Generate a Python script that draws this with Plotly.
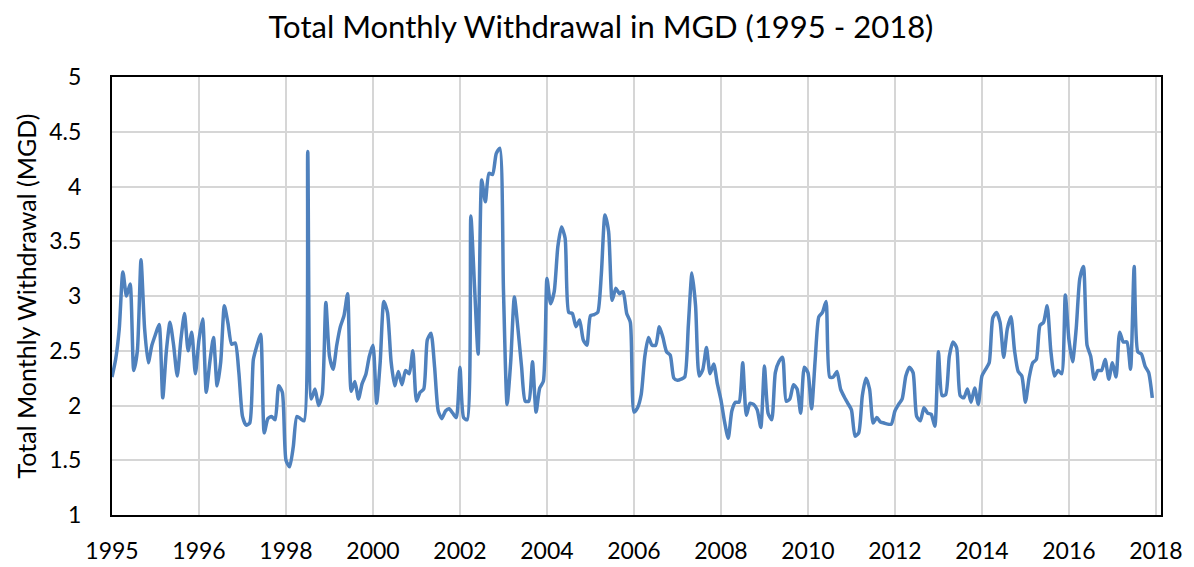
import plotly.graph_objects as go

# Monthly withdrawal (MGD), 288 months
withdrawal_mgd = [
    2.26, 2.42, 2.70, 3.22, 3.00, 3.11, 2.32, 2.50, 3.33, 2.70, 2.39, 2.55,
    2.65, 2.74, 2.07, 2.50, 2.76, 2.55, 2.27, 2.60, 2.84, 2.50, 2.67, 2.29,
    2.60, 2.79, 2.12, 2.40, 2.62, 2.18, 2.40, 2.91, 2.75, 2.56, 2.57, 2.30,
    1.90, 1.82, 1.84, 2.42, 2.55, 2.65, 1.75, 1.88, 1.90, 1.87, 2.18, 2.12,
    1.50, 1.44, 1.62, 1.90, 1.88, 1.86, 4.32, 2.06, 2.15, 2.00, 2.10, 2.94,
    2.45, 2.33, 2.55, 2.72, 2.82, 3.02, 2.13, 2.22, 2.06, 2.20, 2.28, 2.45,
    2.55, 2.02, 2.40, 2.95, 2.85, 2.40, 2.18, 2.31, 2.19, 2.32, 2.29, 2.50,
    2.04, 2.12, 2.15, 2.60, 2.66, 2.35, 1.95, 1.88, 1.95, 1.97, 1.93, 1.89,
    2.35, 1.89, 1.87, 3.73, 3.10, 2.47, 4.06, 3.86, 4.12, 4.11, 4.30, 4.35,
    3.05, 2.01, 2.40, 2.99, 2.70, 2.35, 2.04, 2.04, 2.40, 1.94, 2.16, 2.22,
    3.16, 2.93, 3.04, 3.45, 3.63, 3.53, 2.85, 2.84, 2.72, 2.78, 2.60, 2.55,
    2.82, 2.83, 2.85, 3.20, 3.74, 3.59, 2.96, 3.07, 3.02, 3.04, 2.84, 2.76,
    1.94, 1.98, 2.10, 2.45, 2.62, 2.55, 2.55, 2.72, 2.62, 2.49, 2.46, 2.25,
    2.23, 2.24, 2.26, 2.73, 3.21, 2.91, 2.27, 2.33, 2.53, 2.29, 2.38, 2.20,
    2.05, 1.85, 1.70, 1.95, 2.03, 2.03, 2.39, 1.91, 2.02, 2.01, 1.96, 1.80,
    2.36, 1.93, 1.87, 2.30, 2.40, 2.44, 2.04, 2.06, 2.19, 2.15, 1.93, 2.35,
    2.30, 1.97, 2.42, 2.81, 2.85, 2.95, 2.26, 2.26, 2.31, 2.15, 2.08, 2.02,
    1.96, 1.72, 1.75, 2.09, 2.25, 2.15, 1.84, 1.89, 1.85, 1.84, 1.83, 1.83,
    1.95, 2.01, 2.06, 2.27, 2.35, 2.30, 1.90, 1.86, 1.98, 1.93, 1.92, 1.81,
    2.49, 2.09, 2.10, 2.45, 2.58, 2.53, 2.09, 2.07, 2.15, 2.03, 2.16, 2.01,
    2.27, 2.33, 2.39, 2.80, 2.85, 2.76, 2.44, 2.70, 2.81, 2.50, 2.31, 2.27,
    2.03, 2.25, 2.39, 2.42, 2.73, 2.76, 2.91, 2.50, 2.27, 2.32, 2.29, 3.01,
    2.60, 2.40, 2.70, 3.16, 3.27, 2.55, 2.45, 2.24, 2.32, 2.32, 2.42, 2.24,
    2.39, 2.26, 2.67, 2.58, 2.58, 2.33, 3.27, 2.49, 2.47, 2.36, 2.30, 2.07,
]
month_index = list(range(len(withdrawal_mgd)))

tick_labels = ["1995", "1996", "1998", "2000", "2002", "2004", "2006",
               "2008", "2010", "2012", "2014", "2016", "2018"]
tick_positions = [24 * i for i in range(len(tick_labels))]

FONT = "Lato"

fig = go.Figure()
fig.add_trace(go.Scatter(
    x=month_index, y=withdrawal_mgd, mode="lines",
    line=dict(color="#4F81BD", width=3.5, shape="spline", smoothing=0.6),
    hoverinfo="y", showlegend=False,
))

fig.update_layout(
    width=1186, height=559,
    margin=dict(l=104, r=33, t=69, b=52),
    paper_bgcolor="white", plot_bgcolor="white",
    font=dict(family=FONT, color="#000000"),
    title=dict(text="Total Monthly Withdrawal in MGD (1995 - 2018)",
               x=0.5, xanchor="center", y=0.966, yanchor="middle",
               font=dict(family=FONT, size=31, color="#000000")),
)
fig.update_xaxes(
    range=[0, 289.4], tickmode="array", tickvals=tick_positions, ticktext=tick_labels,
    showgrid=True, gridcolor="#D6D6D6", gridwidth=1.5,
    showline=True, linecolor="black", linewidth=2, mirror=True,
    ticks="outside", ticklen=14, tickcolor="rgba(0,0,0,0)",
    tickfont=dict(family=FONT, size=23), zeroline=False, automargin=False,
)
fig.update_yaxes(
    range=[1, 5], dtick=0.5, tick0=1,
    showgrid=True, gridcolor="#D6D6D6", gridwidth=1.5,
    showline=True, linecolor="black", linewidth=2, mirror=True,
    ticks="outside", ticklen=24, tickcolor="rgba(0,0,0,0)",
    tickfont=dict(family=FONT, size=23), zeroline=False, automargin=False,
    title=dict(text="Total Monthly Withdrawal (MGD)", font=dict(family=FONT, size=25), standoff=6),
)

fig.write_html("out.html")
